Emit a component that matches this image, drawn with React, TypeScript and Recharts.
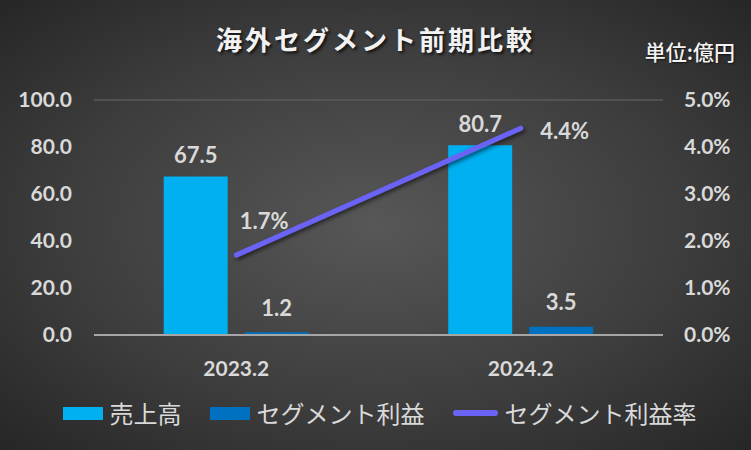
import React from "react";
import {
  ComposedChart,
  Bar,
  Line,
  XAxis,
  YAxis,
  CartesianGrid,
  LabelList,
} from "recharts";

// chart values
const periods = ["2023.2", "2024.2"];
const sales = [67.5, 80.7];
const segmentProfit = [1.2, 3.5];
const profitRate = [1.7, 4.4];
const leftTicks = [0, 20, 40, 60, 80, 100];
const rightTicks = [0, 1, 2, 3, 4, 5];

const data = periods.map((p, i) => ({
  period: p,
  sales: sales[i],
  profit: segmentProfit[i],
  rate: profitRate[i],
}));

const NUM_FONT = "Lato, 'Noto Sans CJK JP', sans-serif";
const JP_FONT = "'Noto Sans CJK JP', sans-serif";
const TEXT = "#d9d9d9";

const SALES_COLOR = "#00b0f0";
const PROFIT_COLOR = "#0070c0";
const RATE_COLOR = "#6b63f5";

const rateLabel = (props: any) => {
  const { x, y, value, index } = props;
  const dx = index === 0 ? 28 : 44;
  const dy = index === 0 ? -35 : 2;
  return (
    <text
      x={x + dx}
      y={y + dy}
      textAnchor="middle"
      dominantBaseline="central"
      fill={TEXT}
      fontFamily={NUM_FONT}
      fontWeight={700}
      fontSize={22}
    >
      {value.toFixed(1)}%
    </text>
  );
};

const barLabel = (offset: number) => (props: any) => {
  const { x, y, width, value } = props;
  return (
    <text
      x={x + width / 2}
      y={y - offset}
      textAnchor="middle"
      dominantBaseline="central"
      fill={TEXT}
      fontFamily={NUM_FONT}
      fontWeight={700}
      fontSize={22}
    >
      {value.toFixed(1)}
    </text>
  );
};

function LegendRow() {
  const item = (swatch: React.ReactNode, label: string, last = false) => (
    <div style={{ display: "flex", alignItems: "center", marginRight: last ? 0 : 28 }}>
      {swatch}
      <span style={{ marginLeft: 7 }}>{label}</span>
    </div>
  );
  return (
    <div
      style={{
        position: "absolute",
        top: 397,
        left: 4,
        width: 751,
        display: "flex",
        justifyContent: "center",
        color: TEXT,
        fontFamily: JP_FONT,
        fontSize: 24,
        lineHeight: "32px",
      }}
    >
      {item(<div style={{ width: 40, height: 13, background: SALES_COLOR }} />, "売上高")}
      {item(<div style={{ width: 40, height: 13, background: PROFIT_COLOR }} />, "セグメント利益")}
      {item(
        <div style={{ width: 45, height: 6, borderRadius: 3, background: RATE_COLOR }} />,
        "セグメント利益率",
        true
      )}
    </div>
  );
}

export default function App() {
  return (
    <div
      style={{
        position: "absolute",
        top: 0,
        left: 0,
        width: 751,
        height: 450,
        background: "radial-gradient(ellipse at 50% 50%, #575757 0%, #3c3c3c 60%, #262626 100%)",
        overflow: "hidden",
      }}
    >
      <div
        style={{
          position: "absolute",
          top: 20,
          left: 0,
          width: 751,
          textAlign: "center",
          color: "#f2f2f2",
          fontFamily: JP_FONT,
          fontWeight: 700,
          fontSize: 26,
          letterSpacing: 3,
          textShadow: "2px 2px 3px rgba(0,0,0,0.7)",
        }}
      >
        海外セグメント前期比較
      </div>
      <div
        style={{
          position: "absolute",
          top: 36,
          right: 16,
          color: "#f2f2f2",
          fontFamily: JP_FONT,
          fontWeight: 500,
          fontSize: 21,
          textShadow: "1px 1px 2px rgba(0,0,0,0.6)",
        }}
      >
        単位:億円
      </div>
      <ComposedChart
        width={751}
        height={450}
        data={data}
        margin={{ top: 100, right: 0, bottom: 85, left: 0 }}
        barCategoryGap="24.5%"
        barGap={17}
      >
        <defs>
          <filter id="lineShadow" x="-10%" y="-50%" width="120%" height="200%">
            <feDropShadow dx="2" dy="2" stdDeviation="2" floodColor="#000" floodOpacity="0.6" />
          </filter>
        </defs>
        <CartesianGrid vertical={false} stroke="#5a5a5a" strokeWidth={1.5} />
        <XAxis
          dataKey="period"
          axisLine={{ stroke: "#a6a6a6", strokeWidth: 2 }}
          tickLine={false}
          height={30}
          tick={{ fill: TEXT, fontFamily: NUM_FONT, fontWeight: 700, fontSize: 21 }}
          tickMargin={20}
        />
        <YAxis
          yAxisId="left"
          domain={[0, 100]}
          ticks={leftTicks}
          width={94}
          axisLine={false}
          tickLine={false}
          tickMargin={16}
          tickFormatter={(v: number) => v.toFixed(1)}
          tick={{ fill: TEXT, fontFamily: NUM_FONT, fontWeight: 700, fontSize: 21 }}
        />
        <YAxis
          yAxisId="right"
          orientation="right"
          domain={[0, 5]}
          ticks={rightTicks}
          width={88}
          axisLine={false}
          tickLine={false}
          tickMargin={15}
          tickFormatter={(v: number) => `${v.toFixed(1)}%`}
          tick={{ fill: TEXT, fontFamily: NUM_FONT, fontWeight: 700, fontSize: 21 }}
        />
        <Bar yAxisId="left" dataKey="sales" fill={SALES_COLOR} isAnimationActive={false}>
          <LabelList dataKey="sales" content={barLabel(22)} />
        </Bar>
        <Bar yAxisId="left" dataKey="profit" fill={PROFIT_COLOR} isAnimationActive={false}>
          <LabelList dataKey="profit" content={barLabel(25)} />
        </Bar>
        <Line
          yAxisId="right"
          dataKey="rate"
          stroke={RATE_COLOR}
          strokeWidth={5}
          strokeLinecap="round"
          dot={false}
          filter="url(#lineShadow)"
          isAnimationActive={false}
        >
          <LabelList dataKey="rate" content={rateLabel} />
        </Line>
      </ComposedChart>
      <LegendRow />
    </div>
  );
}
